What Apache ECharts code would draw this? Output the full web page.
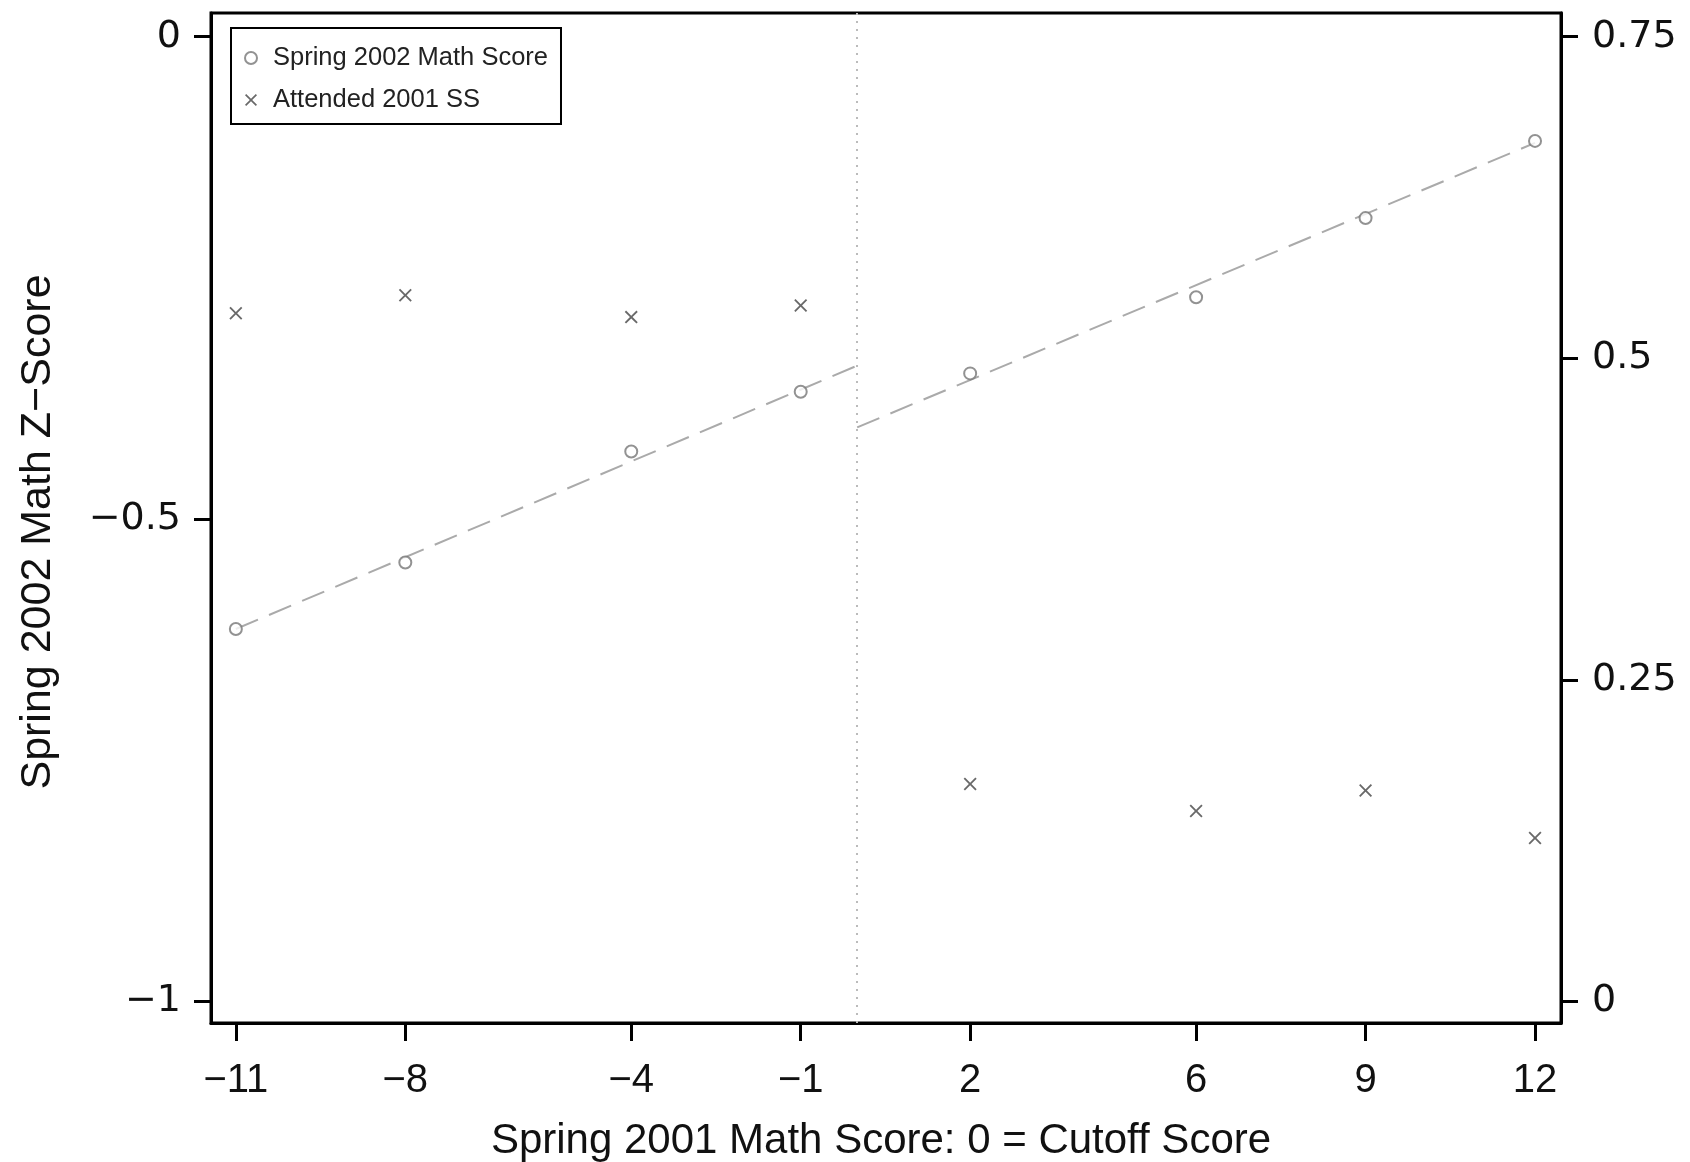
<!DOCTYPE html>
<html>
<head>
<meta charset="utf-8">
<script src="https://cdn.jsdelivr.net/npm/echarts@6/dist/echarts.min.js"></script>
<style>
  html, body { margin: 0; padding: 0; background: #fff; }
  #main { width: 1690px; height: 1162px; }
</style>
</head>
<body>
<div id="main"></div>
<script>
// scores relative to cutoff
var xVals = [-11, -8, -4, -1, 2, 6, 9, 12];
// spring 2002 math z-score (left axis)
var zScores = [-0.614, -0.545, -0.430, -0.368, -0.349, -0.270, -0.188, -0.108];
// share attending 2001 summer school (right axis)
var attended = [0.535, 0.549, 0.532, 0.541, 0.169, 0.148, 0.164, 0.127];
// fitted lines either side of the cutoff
var fitLeft = [[-11, -0.614], [0, -0.341]];
var fitRight = [[0, -0.405], [12, -0.110]];

var xTicks = [-11, -8, -4, -1, 2, 6, 9, 12];
var yLeftTicks = [-1, -0.5, 0];
var yRightTicks = [0, 0.25, 0.5, 0.75];

var font = "'Liberation Sans', Helvetica, Arial, sans-serif";
var wideFont = "'DejaVu Sans', 'Liberation Sans', sans-serif";
var crossPath = 'path://M1,0 L5,4 L9,0 L10,1 L6,5 L10,9 L9,10 L5,6 L1,10 L0,9 L4,5 L0,1 Z';

function minus(v) {
  return String(v).replace('-', '\u2212');
}

var chart = echarts.init(document.getElementById('main'));

var tickStyle = { show: true, length: 17, inside: false, lineStyle: { color: '#000', width: 3 } };
var lineStyle = { show: true, onZero: false, lineStyle: { color: '#000', width: 3 } };

var option = {
  animation: false,
  backgroundColor: '#fff',
  grid: {
    left: 211, right: 129, top: 13, bottom: 139,
    outerBoundsMode: 'none',
    show: true, borderColor: '#000', borderWidth: 3
  },
  legend: {
    orient: 'vertical',
    left: 231, top: 28,
    padding: [17, 13, 11, 13],
    itemGap: 16,
    itemWidth: 12, itemHeight: 12,
    borderColor: '#000', borderWidth: 2,
    textStyle: { fontFamily: font, fontSize: 25.5, color: '#222', padding: [0, 0, 0, 11] },
    data: [
      { name: 'Spring 2002 Math Score', icon: 'emptyCircle' },
      { name: 'Attended 2001 SS', icon: crossPath }
    ]
  },
  xAxis: {
    type: 'value',
    min: -11.44, max: 12.46,
    axisLine: lineStyle,
    axisTick: Object.assign({}, tickStyle, { length: 18, customValues: xTicks }),
    axisLabel: {
      customValues: xTicks,
      margin: 38,
      fontFamily: font, fontSize: 40, color: '#111',
      formatter: minus
    },
    splitLine: { show: false },
    name: 'Spring 2001 Math Score: 0 = Cutoff Score',
    nameLocation: 'middle',
    nameGap: 97,
    nameTextStyle: { fontFamily: font, fontSize: 42, color: '#111', padding: [0, 10, 0, 0] }
  },
  yAxis: [
    {
      type: 'value',
      min: -1.0224, max: 0.0246,
      position: 'left',
      axisLine: lineStyle,
      axisTick: Object.assign({}, tickStyle, { customValues: yLeftTicks }),
      axisLabel: {
        customValues: yLeftTicks,
        margin: 30,
        fontFamily: wideFont, fontSize: 38, color: '#111',
        formatter: minus
      },
      splitLine: { show: false },
      name: 'Spring 2002 Math Z\u2212Score',
      nameLocation: 'middle',
      nameGap: 151,
      nameRotate: 90,
      nameTextStyle: { fontFamily: font, fontSize: 43, color: '#111', padding: [0, 28, 0, 0] }
    },
    {
      type: 'value',
      min: -0.0168, max: 0.7684,
      position: 'right',
      axisLine: lineStyle,
      axisTick: Object.assign({}, tickStyle, { customValues: yRightTicks }),
      axisLabel: {
        customValues: yRightTicks,
        margin: 31,
        fontFamily: wideFont, fontSize: 38, color: '#111'
      },
      splitLine: { show: false }
    }
  ],
  series: [
    {
      name: 'fit-left',
      type: 'line',
      yAxisIndex: 0,
      data: fitLeft,
      symbol: 'none',
      silent: true,
      lineStyle: { color: '#aaa', width: 2, type: [24, 12] },
      z: 1
    },
    {
      name: 'fit-right',
      type: 'line',
      yAxisIndex: 0,
      data: fitRight,
      symbol: 'none',
      silent: true,
      lineStyle: { color: '#aaa', width: 2, type: [24, 12] },
      z: 1
    },
    {
      name: 'Spring 2002 Math Score',
      type: 'scatter',
      yAxisIndex: 0,
      symbol: 'emptyCircle',
      symbolSize: 12,
      itemStyle: { color: '#777', borderColor: '#777', borderWidth: 2 },
      data: xVals.map(function (x, i) { return [x, zScores[i]]; }),
      markLine: {
        silent: true,
        symbol: 'none',
        label: { show: false },
        lineStyle: { color: '#bbb', width: 2, type: [2, 6] },
        data: [{ xAxis: 0 }]
      },
      z: 3
    },
    {
      name: 'Attended 2001 SS',
      type: 'scatter',
      yAxisIndex: 1,
      symbol: crossPath,
      symbolSize: 13,
      itemStyle: { color: '#444' },
      data: xVals.map(function (x, i) { return [x, attended[i]]; }),
      z: 3
    }
  ]
};

chart.setOption(option);
</script>
</body>
</html>
